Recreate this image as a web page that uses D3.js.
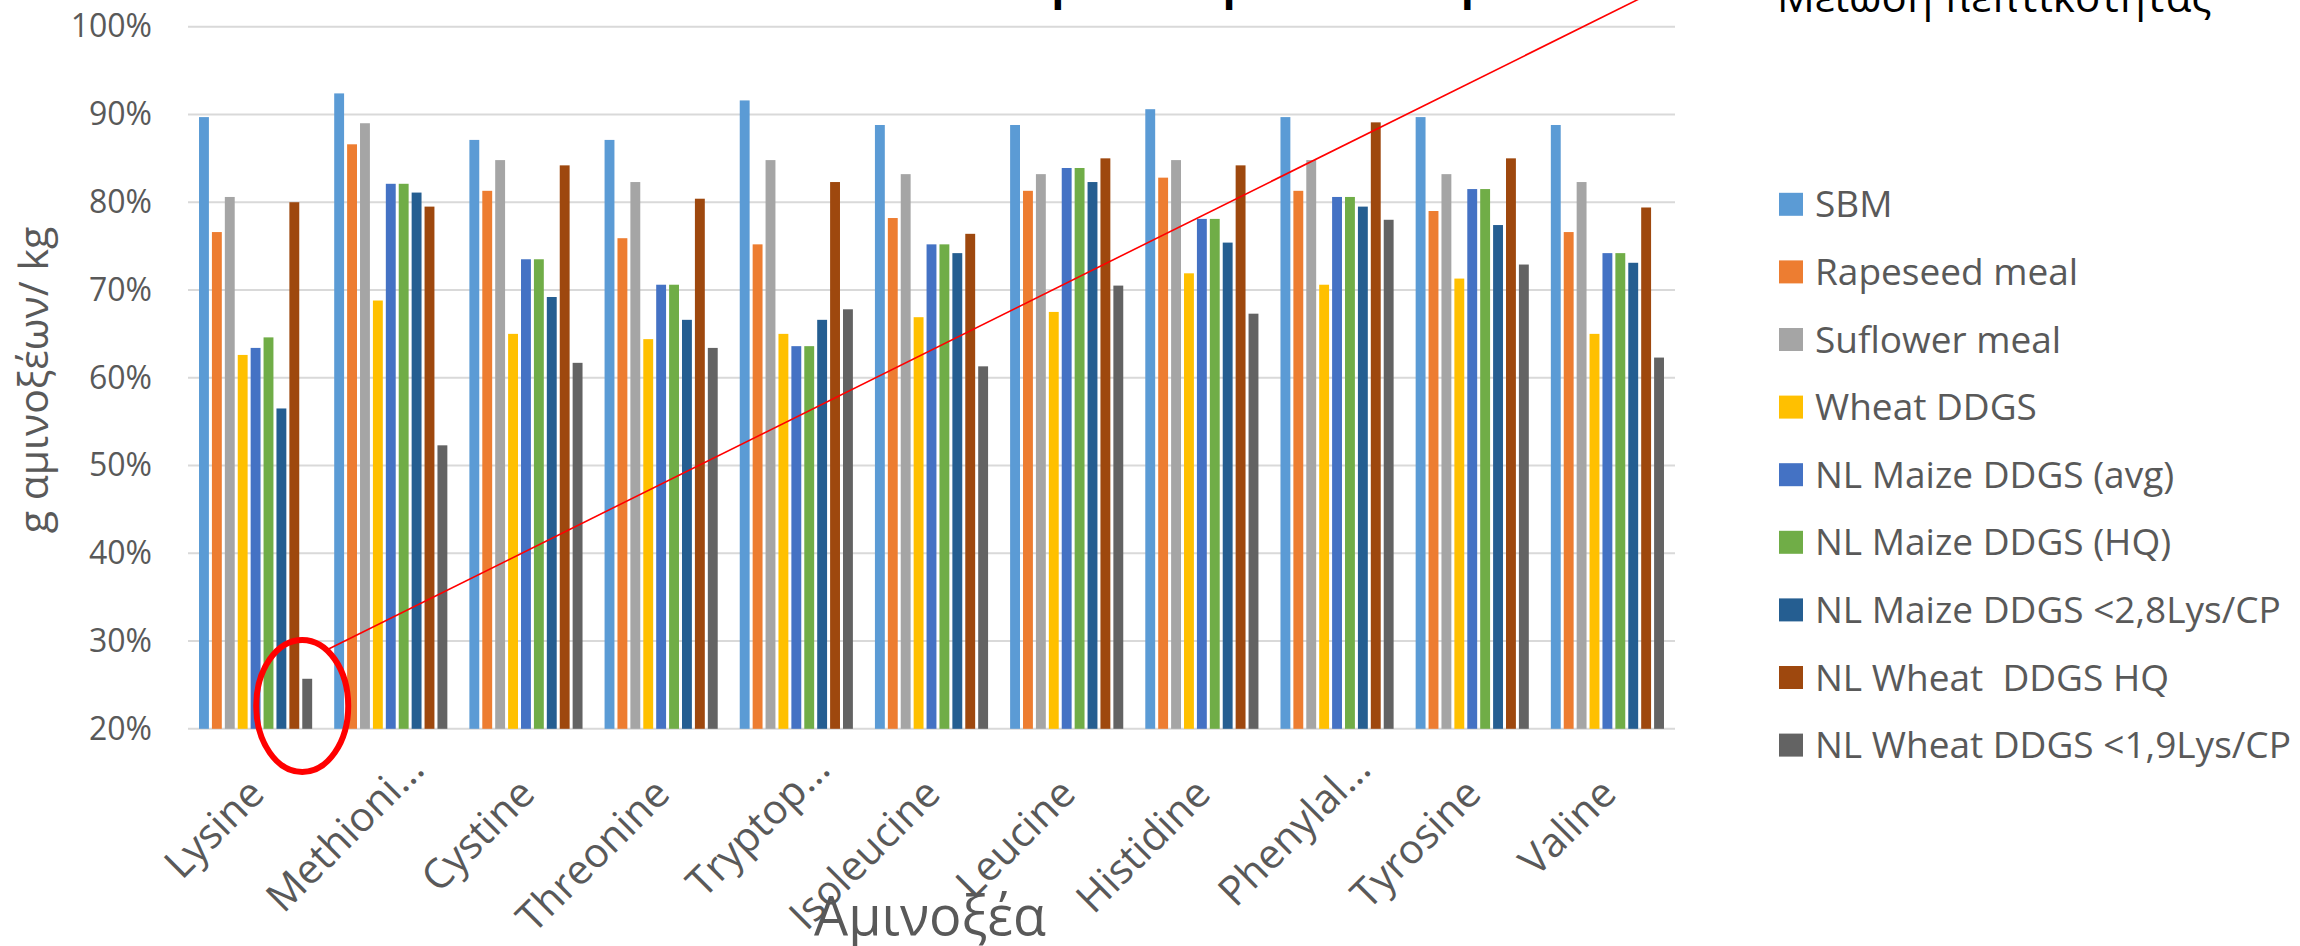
<!DOCTYPE html>
<html>
<head>
<meta charset="utf-8">
<script src="https://cdn.jsdelivr.net/npm/d3@7"></script>
<style>
  html, body { margin: 0; padding: 0; background: #ffffff; }
  svg { display: block; }
  text { font-family: "Open Sans", "Noto Sans", sans-serif; white-space: pre; }
</style>
</head>
<body>
<svg id="chart" width="2300" height="946"></svg>
<script>
// Amino acid digestibility by feed ingredient (%)
const categories = ["Lysine", "Methioni…", "Cystine", "Threonine", "Tryptop…", "Isoleucine",
                    "Leucine", "Histidine", "Phenylal…", "Tyrosine", "Valine"];

const seriesNames = ["SBM", "Rapeseed meal", "Suflower meal", "Wheat DDGS", "NL Maize DDGS (avg)",
                     "NL Maize DDGS (HQ)", "NL Maize DDGS <2,8Lys/CP", "NL Wheat  DDGS HQ",
                     "NL Wheat DDGS <1,9Lys/CP"];

const seriesColors = ["#5B9BD5", "#ED7D31", "#A5A5A5", "#FFC000", "#4472C4",
                      "#70AD47", "#255E91", "#9E480E", "#636363"];

const sbm       = [89.7, 92.4, 87.1, 87.1, 91.6, 88.8, 88.8, 90.6, 89.7, 89.7, 88.8];
const rapeseed  = [76.6, 86.6, 81.3, 75.9, 75.2, 78.2, 81.3, 82.8, 81.3, 79.0, 76.6];
const sunflower = [80.6, 89.0, 84.8, 82.3, 84.8, 83.2, 83.2, 84.8, 84.8, 83.2, 82.3];
const wheatDdgs = [62.6, 68.8, 65.0, 64.4, 65.0, 66.9, 67.5, 71.9, 70.6, 71.3, 65.0];
const maizeAvg  = [63.4, 82.1, 73.5, 70.6, 63.6, 75.2, 83.9, 78.1, 80.6, 81.5, 74.2];
const maizeHq   = [64.6, 82.1, 73.5, 70.6, 63.6, 75.2, 83.9, 78.1, 80.6, 81.5, 74.2];
const maizeLow  = [56.5, 81.1, 69.2, 66.6, 66.6, 74.2, 82.3, 75.4, 79.5, 77.4, 73.1];
const wheatHq   = [80.0, 79.5, 84.2, 80.4, 82.3, 76.4, 85.0, 84.2, 89.1, 85.0, 79.4];
const wheatLow  = [25.7, 52.3, 61.7, 63.4, 67.8, 61.3, 70.5, 67.3, 78.0, 72.9, 62.3];

const seriesValues = [sbm, rapeseed, sunflower, wheatDdgs, maizeAvg, maizeHq, maizeLow, wheatHq, wheatLow];

const yTicks = [20, 30, 40, 50, 60, 70, 80, 90, 100];

const chartTitle = "Τυπική ειλεϊκή πεπτικότητα";
const noteText = "Μείωση πεπτικότητας";
const yTitle = "g αμινοξέων/ kg";
const xTitle = "Αμινοξέα";

// ---- layout ----
const plot = { left: 188, right: 1675, top: 26.7, bottom: 728.8 };
const textGrey = "#595959";

const svg = d3.select("#chart");

const y = d3.scaleLinear().domain([20, 100]).range([plot.bottom, plot.top]);

const x0 = d3.scaleBand()
  .domain(categories)
  .range([plot.left, plot.right])
  .paddingInner(0.163)
  .paddingOuter(0.0815);

const x1 = d3.scaleBand()
  .domain(d3.range(seriesNames.length))
  .range([0, x0.bandwidth()])
  .paddingInner(0.234);

// gridlines
svg.append("g")
  .selectAll("line")
  .data(yTicks)
  .join("line")
  .attr("x1", plot.left)
  .attr("x2", plot.right)
  .attr("y1", d => y(d))
  .attr("y2", d => y(d))
  .attr("stroke", "#D9D9D9")
  .attr("stroke-width", 2);

// y axis labels
const yAxis = svg.append("g")
  .attr("transform", `translate(${plot.left},0)`)
  .call(d3.axisLeft(y).tickValues(yTicks).tickSize(0).tickPadding(36).tickFormat(d => d + "%"));
yAxis.select(".domain").remove();
yAxis.selectAll("text")
  .attr("fill", textGrey)
  .style("font-size", "32px")
  .style("font-family", "'Open Sans', sans-serif");

// bars
const groups = svg.append("g")
  .selectAll("g")
  .data(categories)
  .join("g")
  .attr("transform", d => `translate(${x0(d)},0)`);

groups.selectAll("rect")
  .data((c, ci) => seriesValues.map((vals, si) => ({ si, v: vals[ci] })))
  .join("rect")
  .attr("x", d => x1(d.si))
  .attr("width", x1.bandwidth())
  .attr("y", d => y(d.v))
  .attr("height", d => y(20) - y(d.v))
  .attr("fill", d => seriesColors[d.si]);

// category labels, rotated
svg.append("g")
  .selectAll("text")
  .data(categories)
  .join("text")
  .attr("transform", d => `translate(${x0(d) + x0.bandwidth() / 2 + 11},796) rotate(-45)`)
  .attr("text-anchor", "end")
  .attr("dx", d => d.endsWith("…") ? "0.85em" : 0)
  .attr("fill", textGrey)
  .style("font-size", "41px")
  .text(d => d);

// axis titles
svg.append("text")
  .attr("transform", "translate(48,380) rotate(-90)")
  .attr("text-anchor", "middle")
  .attr("fill", textGrey)
  .style("font-size", "41px")
  .text(yTitle);

svg.append("text")
  .attr("x", 930)
  .attr("y", 935)
  .attr("text-anchor", "middle")
  .attr("fill", textGrey)
  .style("font-size", "54px")
  .text(xTitle);

// legend
const legend = svg.append("g")
  .selectAll("g")
  .data(seriesNames)
  .join("g")
  .attr("transform", (d, i) => `translate(1779,${204.3 + i * 67.6})`);

legend.append("rect")
  .attr("x", 0)
  .attr("y", -11.5)
  .attr("width", 24)
  .attr("height", 23)
  .attr("fill", (d, i) => seriesColors[i]);

legend.append("text")
  .attr("x", 36)
  .attr("y", 13)
  .attr("fill", textGrey)
  .style("font-size", "37px")
  .text(d => d);

// title, mostly above the visible area
svg.append("text")
  .attr("x", 911)
  .attr("y", -0.5)
  .attr("fill", "#000000")
  .style("font-size", "42px")
  .style("font-weight", "700")
  .text(chartTitle);

// annotation: circled low lysine value with a pointer to the note
const lowBarX = x0(categories[0]) + x1(seriesNames.length - 1) + x1.bandwidth() / 2 - 5;
const ring = { cx: lowBarX, cy: y(22.6), rx: 46, ry: 66 };
svg.append("ellipse")
  .attr("cx", ring.cx)
  .attr("cy", ring.cy)
  .attr("rx", ring.rx)
  .attr("ry", ring.ry)
  .attr("fill", "none")
  .attr("stroke", "#FF0000")
  .attr("stroke-width", 6);

const a = 58 * Math.PI / 180;
svg.append("line")
  .attr("x1", ring.cx + ring.rx * Math.cos(a))
  .attr("y1", ring.cy - ring.ry * Math.sin(a))
  .attr("x2", 1647)
  .attr("y2", -5)
  .attr("stroke", "#FF0000")
  .attr("stroke-width", 1.6);

svg.append("text")
  .attr("x", 1777)
  .attr("y", 12)
  .attr("fill", "#000000")
  .style("font-size", "42px")
  .text(noteText);
</script>
</body>
</html>
